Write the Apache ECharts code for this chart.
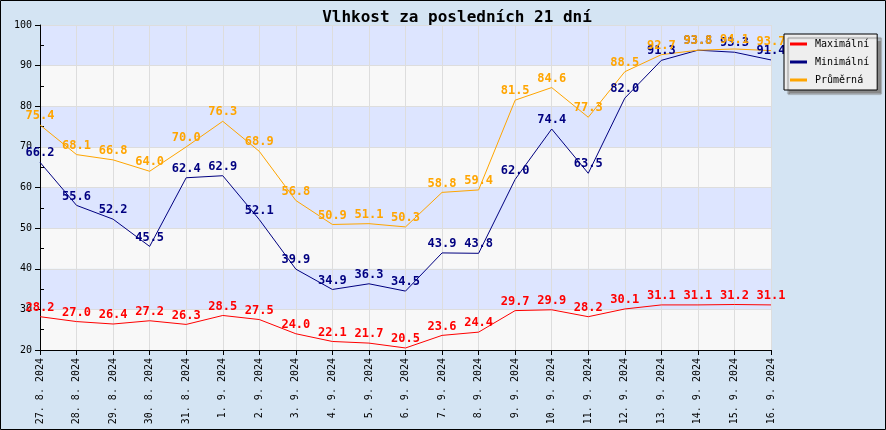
<!DOCTYPE html>
<html>
<head>
<meta charset="utf-8">
<script src="https://cdn.jsdelivr.net/npm/echarts@6/dist/echarts.min.js"></script>
<style>
html,body{margin:0;padding:0;}
#c{width:886px;height:430px;}
</style>
</head>
<body>
<div id="c"></div>
<script>
const categories = ['27. 8. 2024','28. 8. 2024','29. 8. 2024','30. 8. 2024','31. 8. 2024','1. 9. 2024','2. 9. 2024','3. 9. 2024','4. 9. 2024','5. 9. 2024','6. 9. 2024','7. 9. 2024','8. 9. 2024','9. 9. 2024','10. 9. 2024','11. 9. 2024','12. 9. 2024','13. 9. 2024','14. 9. 2024','15. 9. 2024','16. 9. 2024'];
const maxValues = [28.2,27.0,26.4,27.2,26.3,28.5,27.5,24.0,22.1,21.7,20.5,23.6,24.4,29.7,29.9,28.2,30.1,31.1,31.1,31.2,31.1];
const minValues = [66.2,55.6,52.2,45.5,62.4,62.9,52.1,39.9,34.9,36.3,34.5,43.9,43.8,62.0,74.4,63.5,82.0,91.3,93.8,93.3,91.4];
const avgValues = [75.4,68.1,66.8,64.0,70.0,76.3,68.9,56.8,50.9,51.1,50.3,58.8,59.4,81.5,84.6,77.3,88.5,92.7,93.8,94.1,93.7];
const seriesNames = ['Maximální','Minimální','Průměrná'];
const seriesColors = ['#ff0000','#000080','#ffa500'];
const titleText = 'Vlhkost za posledních 21 dní';

const mono = 'DejaVu Sans Mono';
const chart = echarts.init(document.getElementById('c'));
function mk(name, data, color){
  return {
    name: name, type: 'line', data: data,
    symbol: 'circle', symbolSize: 0, showSymbol: true,
    lineStyle: {color: color, width: 1},
    itemStyle: {color: color},
    label: {show: true, position: 'top', distance: 3, color: color,
      fontFamily: mono, fontSize: 12, fontWeight: 'bold',
      formatter: p => p.value.toFixed(1)},
    emphasis: {disabled: true},
    animation: false
  };
}
chart.setOption({
  backgroundColor: '#d4e4f3',
  animation: false,
  title: {text: titleText, left: 452, top: 5, textAlign: 'center',
    textStyle: {fontFamily: mono, fontSize: 16, fontWeight: 'bold', color: '#000'}},
  legend: {
    data: seriesNames.map((n,i)=>({name:n, itemStyle:{color:seriesColors[i]}})),
    orient: 'vertical', left: 784, top: 34,
    padding: [4, 8, 4, 6], itemGap: 6, itemWidth: 17, itemHeight: 3, icon: 'rect',
    backgroundColor: '#eeeeee', borderColor: '#000', borderWidth: 1,
    shadowColor: '#888888', shadowOffsetX: 4, shadowOffsetY: 4, shadowBlur: 1,
    textStyle: {fontFamily: mono, fontSize: 10, color: '#000', lineHeight: 12, padding: [0,0,0,3]},
    selectedMode: false
  },
  grid: {left: 40, right: 115, top: 25, bottom: 80, containLabel: false},
  xAxis: {
    type: 'category', data: categories, boundaryGap: false,
    axisLine: {lineStyle: {color: '#000', width: 1}},
    axisTick: {show: true, length: 5, lineStyle: {color: '#000'}, alignWithLabel: true},
    axisLabel: {rotate: 90, interval: 0, margin: 8, fontFamily: mono, fontSize: 10, color: '#000'},
    splitLine: {show: true, lineStyle: {color: '#dddddd', width: 1}}
  },
  yAxis: {
    type: 'value', min: 20, max: 100, interval: 10,
    axisLine: {show: true, lineStyle: {color: '#000', width: 1}},
    axisTick: {show: true, length: 5, lineStyle: {color: '#000'}},
    minorTick: {show: true, splitNumber: 2, length: -4, lineStyle: {color: '#000'}},
    axisLabel: {margin: 8, fontFamily: mono, fontSize: 10, color: '#000'},
    splitLine: {show: true, lineStyle: {color: '#dddddd', width: 1}},
    splitArea: {show: true, areaStyle: {color: ['#f8f8f8', '#dde5ff']}}
  },
  graphic: [{type: 'rect', z: 100, silent: true,
    shape: {x: 0.5, y: 0.5, width: 885, height: 429},
    style: {fill: 'none', stroke: '#000', lineWidth: 1}}],
  series: [mk(seriesNames[0], maxValues, seriesColors[0]),
           mk(seriesNames[1], minValues, seriesColors[1]),
           mk(seriesNames[2], avgValues, seriesColors[2])]
});
</script>
</body>
</html>
